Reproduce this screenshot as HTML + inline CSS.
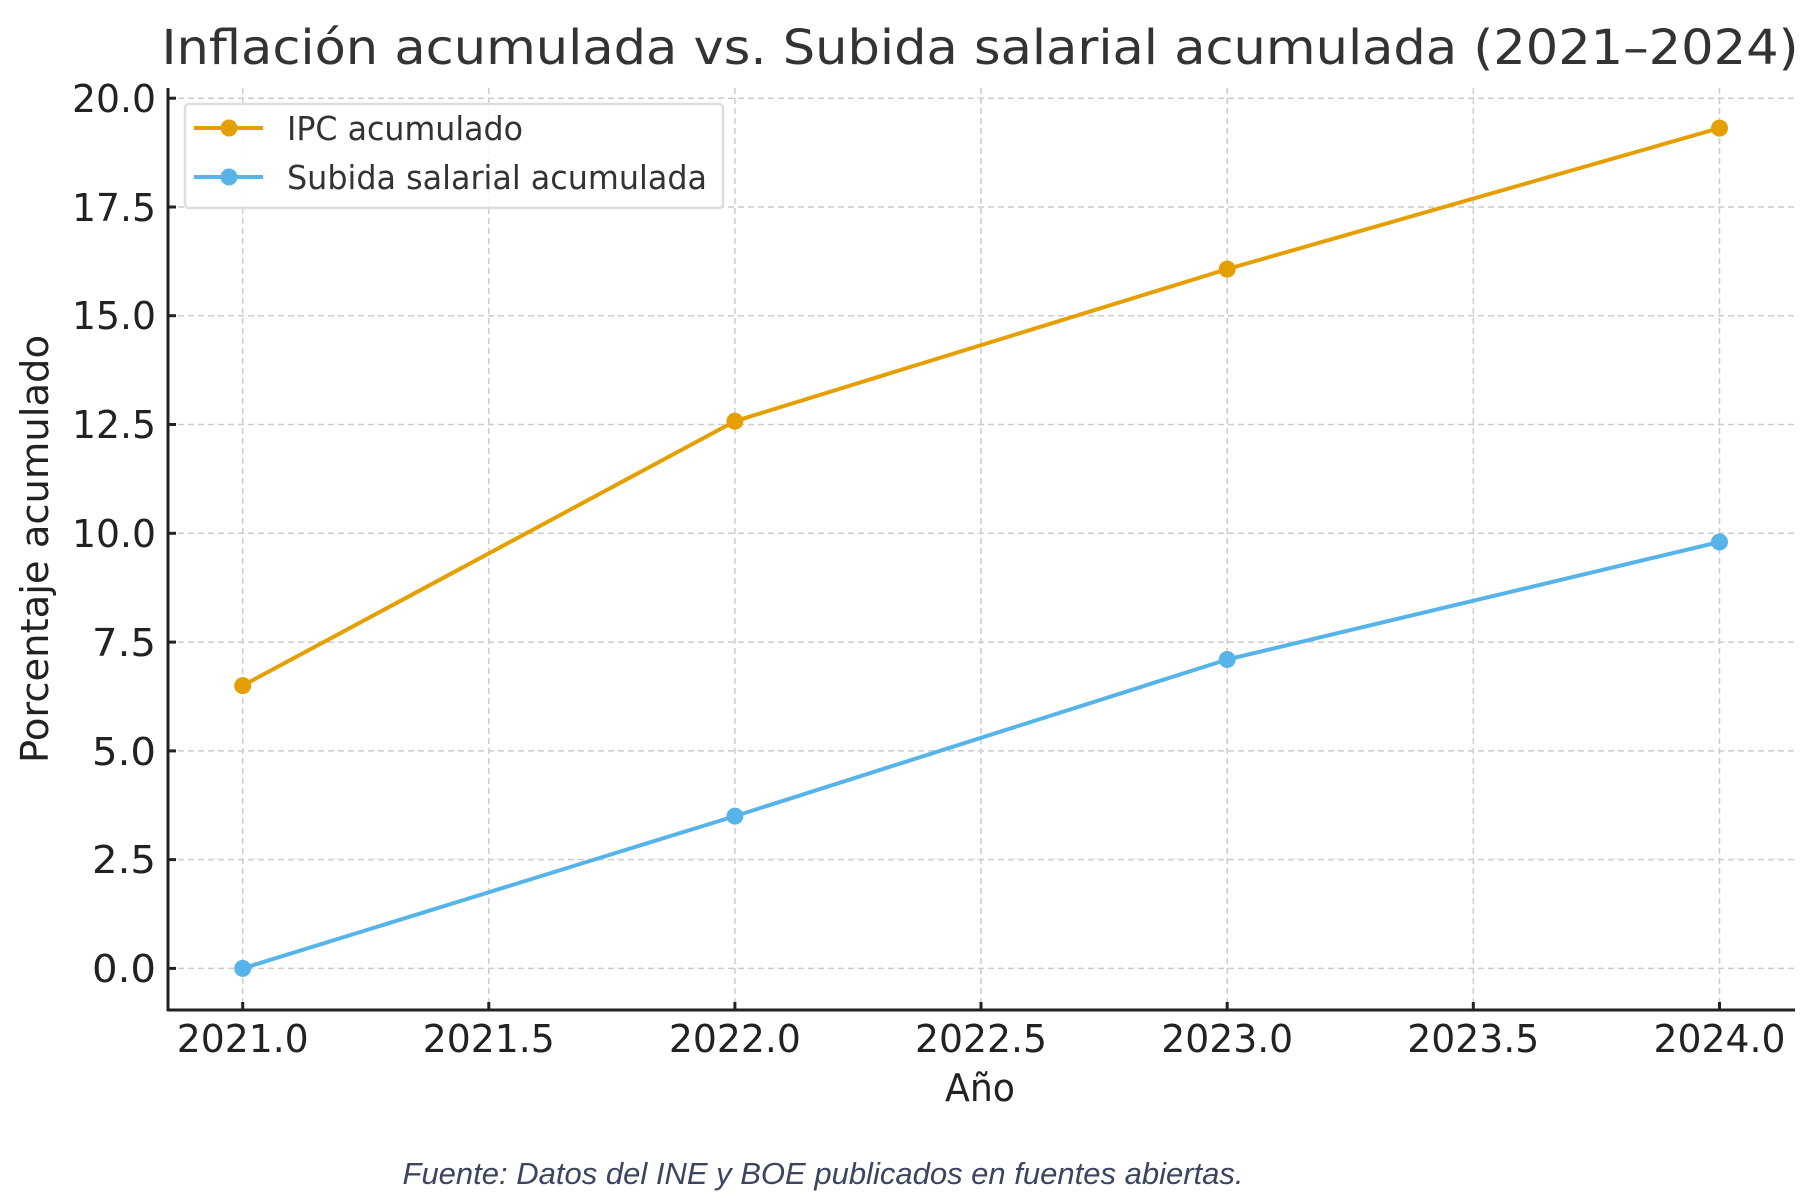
<!DOCTYPE html>
<html><head><meta charset="utf-8"><style>html,body{margin:0;padding:0;background:#fff}svg{display:block}</style></head>
<body>
<svg width="1812" height="1200" viewBox="0 0 1812 1200" xmlns="http://www.w3.org/2000/svg" font-family="DejaVu Sans, Liberation Sans, sans-serif">
<rect width="1812" height="1200" fill="#fff"/>
<g stroke="#cccccc" stroke-width="1.5" stroke-dasharray="6,4">
<line x1="242.7" y1="88" x2="242.7" y2="1010"/>
<line x1="488.8" y1="88" x2="488.8" y2="1010"/>
<line x1="734.9" y1="88" x2="734.9" y2="1010"/>
<line x1="981" y1="88" x2="981" y2="1010"/>
<line x1="1227.2" y1="88" x2="1227.2" y2="1010"/>
<line x1="1473.3" y1="88" x2="1473.3" y2="1010"/>
<line x1="1719.5" y1="88" x2="1719.5" y2="1010"/>
<line x1="168" y1="98.2" x2="1795" y2="98.2"/>
<line x1="168" y1="207" x2="1795" y2="207"/>
<line x1="168" y1="315.7" x2="1795" y2="315.7"/>
<line x1="168" y1="424.5" x2="1795" y2="424.5"/>
<line x1="168" y1="533.3" x2="1795" y2="533.3"/>
<line x1="168" y1="642.1" x2="1795" y2="642.1"/>
<line x1="168" y1="750.9" x2="1795" y2="750.9"/>
<line x1="168" y1="859.6" x2="1795" y2="859.6"/>
<line x1="168" y1="968.4" x2="1795" y2="968.4"/>
</g>
<g stroke="#222" stroke-width="3">
<line x1="168" y1="88" x2="168" y2="1011"/>
<line x1="167" y1="1010" x2="1795" y2="1010"/>
<line x1="242.7" y1="1010" x2="242.7" y2="1002"/><line x1="488.8" y1="1010" x2="488.8" y2="1002"/><line x1="734.9" y1="1010" x2="734.9" y2="1002"/><line x1="981" y1="1010" x2="981" y2="1002"/><line x1="1227.2" y1="1010" x2="1227.2" y2="1002"/><line x1="1473.3" y1="1010" x2="1473.3" y2="1002"/><line x1="1719.5" y1="1010" x2="1719.5" y2="1002"/>
<line x1="168" y1="98.2" x2="176" y2="98.2"/><line x1="168" y1="207" x2="176" y2="207"/><line x1="168" y1="315.7" x2="176" y2="315.7"/><line x1="168" y1="424.5" x2="176" y2="424.5"/><line x1="168" y1="533.3" x2="176" y2="533.3"/><line x1="168" y1="642.1" x2="176" y2="642.1"/><line x1="168" y1="750.9" x2="176" y2="750.9"/><line x1="168" y1="859.6" x2="176" y2="859.6"/><line x1="168" y1="968.4" x2="176" y2="968.4"/>
</g>
<text x="980" y="64" text-anchor="middle" font-size="48" fill="#333" textLength="1637" lengthAdjust="spacingAndGlyphs">Inflación acumulada vs. Subida salarial acumulada (2021–2024)</text>
<g font-size="38" fill="#222" text-anchor="end">
<text x="156" y="112" textLength="84" lengthAdjust="spacingAndGlyphs">20.0</text>
<text x="156" y="221" textLength="84" lengthAdjust="spacingAndGlyphs">17.5</text>
<text x="156" y="329" textLength="84" lengthAdjust="spacingAndGlyphs">15.0</text>
<text x="156" y="438" textLength="84" lengthAdjust="spacingAndGlyphs">12.5</text>
<text x="156" y="547" textLength="84" lengthAdjust="spacingAndGlyphs">10.0</text>
<text x="156" y="656" textLength="64" lengthAdjust="spacingAndGlyphs">7.5</text>
<text x="156" y="765" textLength="64" lengthAdjust="spacingAndGlyphs">5.0</text>
<text x="156" y="873" textLength="64" lengthAdjust="spacingAndGlyphs">2.5</text>
<text x="156" y="982" textLength="64" lengthAdjust="spacingAndGlyphs">0.0</text>
</g>
<g font-size="38" fill="#222" text-anchor="middle">
<text x="242.7" y="1052" textLength="132" lengthAdjust="spacingAndGlyphs">2021.0</text>
<text x="488.8" y="1052" textLength="132" lengthAdjust="spacingAndGlyphs">2021.5</text>
<text x="734.9" y="1052" textLength="132" lengthAdjust="spacingAndGlyphs">2022.0</text>
<text x="981" y="1052" textLength="132" lengthAdjust="spacingAndGlyphs">2022.5</text>
<text x="1227.2" y="1052" textLength="132" lengthAdjust="spacingAndGlyphs">2023.0</text>
<text x="1473.3" y="1052" textLength="132" lengthAdjust="spacingAndGlyphs">2023.5</text>
<text x="1719.5" y="1052" textLength="132" lengthAdjust="spacingAndGlyphs">2024.0</text>
<text x="980" y="1101" textLength="70" lengthAdjust="spacingAndGlyphs">Año</text>
</g>
<text transform="translate(48,549) rotate(-90)" text-anchor="middle" font-size="38" fill="#222" textLength="428" lengthAdjust="spacingAndGlyphs">Porcentaje acumulado</text>
<g fill="none" stroke-width="4" stroke-linejoin="round">
<polyline stroke="#E69F00" points="242.7,685.6 734.9,421.2 1227.2,269.1 1719.5,128.1"/>
<polyline stroke="#56B4E9" points="242.7,968.4 734.9,816.1 1227.2,659.5 1719.5,542.0"/>
</g>
<g fill="#E69F00"><circle cx="242.7" cy="685.6" r="8.5"/><circle cx="734.9" cy="421.2" r="8.5"/><circle cx="1227.2" cy="269.1" r="8.5"/><circle cx="1719.5" cy="128.1" r="8.5"/></g>
<g fill="#56B4E9"><circle cx="242.7" cy="968.4" r="8.5"/><circle cx="734.9" cy="816.1" r="8.5"/><circle cx="1227.2" cy="659.5" r="8.5"/><circle cx="1719.5" cy="542.0" r="8.5"/></g>
<rect x="185" y="104" width="538" height="104" rx="4" fill="#fff" fill-opacity="0.85" stroke="#dddddd" stroke-width="2.5"/>
<line x1="194" y1="128" x2="263" y2="128" stroke="#E69F00" stroke-width="4"/><circle cx="229" cy="128" r="8.5" fill="#E69F00"/>
<line x1="194" y1="177" x2="263" y2="177" stroke="#56B4E9" stroke-width="4"/><circle cx="229" cy="177" r="8.5" fill="#56B4E9"/>
<text x="287" y="140" font-size="33" fill="#333" textLength="236" lengthAdjust="spacingAndGlyphs">IPC acumulado</text>
<text x="287" y="189" font-size="33" fill="#333" textLength="420" lengthAdjust="spacingAndGlyphs">Subida salarial acumulada</text>
<text x="823" y="1184" text-anchor="middle" font-family="Liberation Sans, sans-serif" font-style="italic" font-size="31" fill="#3a4560" textLength="841" lengthAdjust="spacingAndGlyphs">Fuente: Datos del INE y BOE publicados en fuentes abiertas.</text>
</svg>
</body></html>
